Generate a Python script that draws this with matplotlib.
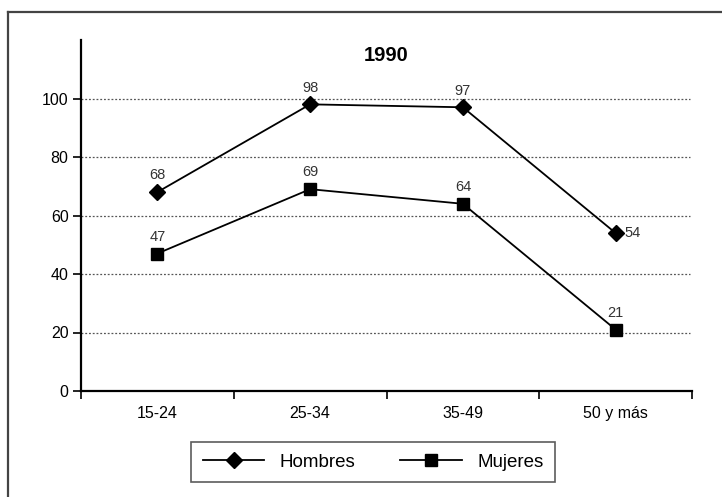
import matplotlib
matplotlib.use("Agg")
import matplotlib.pyplot as plt
from matplotlib.lines import Line2D

plt.rcParams['font.family'] = ['Liberation Sans', 'DejaVu Sans']

groups = ['15-24', '25-34', '35-49', '50 y más']
hombres = [68, 98, 97, 54]
mujeres = [47, 69, 64, 21]
yticks = [0, 20, 40, 60, 80, 100]
title = '1990'

W, H = 722, 497
fig = plt.figure(figsize=(W / 100, H / 100), dpi=100)

# outer frame: only the left and top edges show, the rest runs off the image
fx, fy = 8 / W, (H - 12) / H
fig.add_artist(Line2D([fx, fx], [0, fy], transform=fig.transFigure, color='#444444', lw=1.6))
fig.add_artist(Line2D([fx, 1], [fy, fy], transform=fig.transFigure, color='#444444', lw=1.6))

ax = fig.add_axes([81 / W, (H - 391) / H, (692 - 81) / W, (391 - 40) / H])
x = [i + 0.5 for i in range(len(groups))]

ax.plot(x, hombres, color='black', lw=1.3, marker='D', ms=8.5, zorder=3)
ax.plot(x, mujeres, color='black', lw=1.3, marker='s', ms=9, zorder=3)

lab_kw = dict(textcoords='offset points', fontsize=10.5, color='#333333')
for i, (xi, v) in enumerate(zip(x, hombres)):
    if i == len(x) - 1:
        ax.annotate(str(v), (xi, v), xytext=(6, 0), ha='left', va='center', **lab_kw)
    else:
        ax.annotate(str(v), (xi, v), xytext=(0, 7), ha='center', va='bottom', **lab_kw)
for xi, v in zip(x, mujeres):
    ax.annotate(str(v), (xi, v), xytext=(0, 7), ha='center', va='bottom', **lab_kw)

ax.set_xlim(0, len(groups))
ax.set_ylim(0, 120)
ax.set_yticks(yticks)
ax.set_xticks(range(len(groups) + 1))
ax.set_xticklabels([])
ax.set_xticks(x, minor=True)
ax.set_xticklabels(groups, minor=True)
ax.tick_params(axis='x', which='minor', length=0, pad=11, labelsize=11.5)
ax.tick_params(axis='x', which='major', length=6, width=1.2, direction='out')
ax.tick_params(axis='y', length=6, width=1.2, labelsize=11.5, pad=3)

for s in ['top', 'right']:
    ax.spines[s].set_visible(False)
for s in ['left', 'bottom']:
    ax.spines[s].set_linewidth(1.6)

for yv in yticks[1:]:
    ax.axhline(yv, xmin=0, xmax=0.997, color='#555555', lw=0.9, ls=(0, (1.5, 1.5)), zorder=1)

ax.text(0.5, 0.957, title, transform=ax.transAxes, ha='center', va='center',
        fontsize=14.5, fontweight='bold')

handles = [Line2D([], [], color='black', lw=1.3, marker='D', ms=8.5),
           Line2D([], [], color='black', lw=1.3, marker='s', ms=9)]
leg = fig.legend(handles, ['Hombres', 'Mujeres'], loc='center',
                 bbox_to_anchor=(373 / W, (H - 462) / H), ncol=2, fontsize=13.5,
                 frameon=True, fancybox=False, edgecolor='#333333',
                 handlelength=3.3, handletextpad=0.8, columnspacing=2.4,
                 borderpad=0.6)
leg.get_frame().set_linewidth(1.2)

fig.savefig('out.png', dpi=100)
